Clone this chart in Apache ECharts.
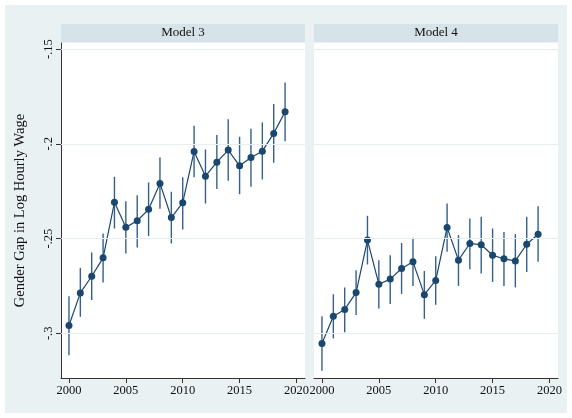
<!DOCTYPE html>
<html>
<head>
<meta charset="utf-8">
<script src="https://cdn.jsdelivr.net/npm/echarts@6/dist/echarts.min.js"></script>
<style>
html,body{margin:0;padding:0;background:#fff;}
#c{width:572px;height:418px;}
</style>
</head>
<body>
<div id="c"></div>
<script>
var years = [2000,2001,2002,2003,2004,2005,2006,2007,2008,2009,2010,2011,2012,2013,2014,2015,2016,2017,2018,2019];
var m3 = [-0.2959,-0.2787,-0.2699,-0.2602,-0.2309,-0.2441,-0.2406,-0.2346,-0.2209,-0.2389,-0.2311,-0.2040,-0.2171,-0.2097,-0.2033,-0.2116,-0.2072,-0.2039,-0.1945,-0.1831];
var m3Lo = [-0.3116,-0.2913,-0.2825,-0.2732,-0.2447,-0.2579,-0.2547,-0.2487,-0.2343,-0.2526,-0.2452,-0.2177,-0.2315,-0.2239,-0.2195,-0.2266,-0.2227,-0.2188,-0.2100,-0.1986];
var m3Hi = [-0.2804,-0.2655,-0.2573,-0.2473,-0.2174,-0.2303,-0.2272,-0.2204,-0.2072,-0.2253,-0.2177,-0.1905,-0.2030,-0.1954,-0.1871,-0.1963,-0.1921,-0.1887,-0.1790,-0.1676];
var m4 = [-0.3054,-0.2910,-0.2874,-0.2785,-0.2508,-0.2741,-0.2714,-0.2658,-0.2623,-0.2796,-0.2721,-0.2442,-0.2614,-0.2526,-0.2533,-0.2588,-0.2607,-0.2618,-0.2530,-0.2477];
var m4Lo = [-0.3198,-0.3027,-0.2994,-0.2904,-0.2637,-0.2869,-0.2845,-0.2792,-0.2750,-0.2924,-0.2850,-0.2570,-0.2750,-0.2662,-0.2684,-0.2729,-0.2750,-0.2758,-0.2676,-0.2623];
var m4Hi = [-0.2910,-0.2794,-0.2758,-0.2667,-0.2380,-0.2614,-0.2588,-0.2524,-0.2496,-0.2671,-0.2593,-0.2315,-0.2482,-0.2394,-0.2385,-0.2447,-0.2465,-0.2477,-0.2385,-0.2329];
var xTicks = [2000,2005,2010,2015,2020];
var yTicks = [-0.3,-0.25,-0.2,-0.15];
var panelTitles = ['Model 3','Model 4'];
var yTitle = 'Gender Gap in Log Hourly Wage';

var FONT = '"Liberation Serif","DejaVu Serif",serif';
var NAVY = '#1a476f';
var chart = echarts.init(document.getElementById('c'), null, {renderer:'canvas'});

function pairs(v){ return years.map(function(y,i){return [y, v[i]];}); }
function ciData(lo,hi){ return years.map(function(y,i){return [y, lo[i], hi[i]];}); }
function yLabel(v){ var s = String(Math.round(v*100)/100); return s.replace('0.', '.'); }
function xLabel(v){ return String(Math.round(v)); }

var grids = [
  {left:61, top:43, width:244, height:335, show:true, backgroundColor:'#ffffff', borderWidth:0},
  {left:314, top:43, width:244, height:335, show:true, backgroundColor:'#ffffff', borderWidth:0}
];
function mkX(i){
  return {gridIndex:i, type:'value', min:1999.3, max:2020.75,
    axisLine:{show:true, onZero:false, lineStyle:{color:'#333', width:1}},
    axisTick:{show:true, customValues:xTicks, length:5, lineStyle:{color:'#333'}},
    axisLabel:{customValues:xTicks, formatter:xLabel, fontFamily:FONT, fontSize:12.5, color:'#111', margin:6, showMinLabel:true, showMaxLabel:true},
    splitLine:{show:false}};
}
function mkY(i){
  var show = i===0;
  return {gridIndex:i, type:'value', min:-0.3236, max:-0.1468,
    name: show ? yTitle : '', nameLocation:'middle', nameGap:33,
    nameTextStyle:{fontFamily:FONT, fontSize:14.5, color:'#111'},
    axisLine:{show:show, onZero:false, lineStyle:{color:'#333', width:1}},
    axisTick:{show:show, customValues:yTicks, length:5, lineStyle:{color:'#333'}},
    axisLabel:{show:show, customValues:yTicks, rotate:90, fontFamily:FONT, fontSize:12.5, color:'#111', margin:6, formatter:yLabel},
    splitLine:{show:false}};
}
function gridSeries(i){
  return {type:'line', xAxisIndex:i, yAxisIndex:i, data:[], z:1, silent:true,
    markLine:{silent:true, symbol:['none','none'], label:{show:false},
      lineStyle:{color:'#e6eef0', type:'solid', width:1},
      data: yTicks.map(function(v){return {yAxis:v};})}};
}
function ciSeries(i, lo, hi){
  return {type:'custom', xAxisIndex:i, yAxisIndex:i, z:2, silent:true,
    data: ciData(lo,hi),
    encode:{x:0, y:[1,2]},
    renderItem:function(params, api){
      var a = api.coord([api.value(0), api.value(1)]);
      var b = api.coord([api.value(0), api.value(2)]);
      return {type:'line', shape:{x1:a[0], y1:a[1], x2:b[0], y2:b[1]},
        style:{stroke:'#35608a', lineWidth:1.4}};
    }};
}
function ptSeries(i, v){
  return {type:'line', xAxisIndex:i, yAxisIndex:i, z:3, data:pairs(v),
    symbol:'circle', symbolSize:7, showAllSymbol:true,
    lineStyle:{color:NAVY, width:1.2}, itemStyle:{color:NAVY}, animation:false};
}

var graphic = [
  {type:'rect', z:-10, silent:true, shape:{x:5, y:5, width:562, height:408}, style:{fill:'#e9f1f3'}}
];
[[61,305],[314,558]].forEach(function(p, i){
  graphic.push({type:'rect', z:-5, silent:true, shape:{x:p[0], y:24, width:p[1]-p[0], height:18}, style:{fill:'#d6e3e8'}});
  graphic.push({type:'text', z:5, silent:true, x:(p[0]+p[1])/2, y:33,
    style:{text:panelTitles[i], fontFamily:FONT, fontSize:13, fill:'#111', align:'center', verticalAlign:'middle'}});
});

chart.setOption({
  animation:false,
  backgroundColor:'transparent',
  grid:grids,
  xAxis:[mkX(0), mkX(1)],
  yAxis:[mkY(0), mkY(1)],
  graphic:graphic,
  series:[gridSeries(0), gridSeries(1), ciSeries(0,m3Lo,m3Hi), ciSeries(1,m4Lo,m4Hi), ptSeries(0,m3), ptSeries(1,m4)]
});
</script>
</body>
</html>
